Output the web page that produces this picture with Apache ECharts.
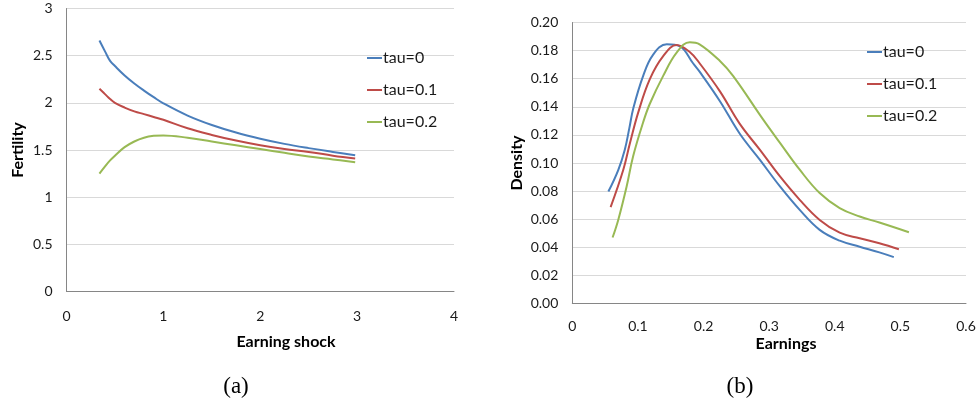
<!DOCTYPE html>
<html>
<head>
<meta charset="utf-8">
<script src="https://cdn.jsdelivr.net/npm/echarts@6/dist/echarts.min.js"></script>
<style>
html,body{margin:0;padding:0;background:#fff}
#chart{width:979px;height:404px}
</style>
</head>
<body>
<div id="chart"></div>
<script>
var seriesNames = ['tau=0', 'tau=0.1', 'tau=0.2'];
var colors = ['#4a7ebb', '#be4b48', '#98b954'];

// (a) fertility against earning shock
var shockX   = [0.34, 0.4, 0.45, 0.5, 0.6, 0.7, 0.8, 0.9, 1.0, 1.25, 1.5, 1.75, 2.0, 2.25, 2.5, 2.75, 2.98];
var fertTau0 = [2.66, 2.54, 2.445, 2.39, 2.29, 2.205, 2.13, 2.06, 1.995, 1.865, 1.765, 1.685, 1.62, 1.565, 1.52, 1.48, 1.445];
var fertTau1 = [2.15, 2.09, 2.04, 2.00, 1.95, 1.91, 1.88, 1.85, 1.82, 1.73, 1.66, 1.60, 1.55, 1.51, 1.48, 1.44, 1.41];
var fertTau2 = [1.25, 1.33, 1.39, 1.44, 1.53, 1.59, 1.63, 1.65, 1.655, 1.63, 1.59, 1.55, 1.51, 1.47, 1.43, 1.40, 1.37];

// (b) density against earnings
var earnX0 = [0.055, 0.070, 0.080, 0.087, 0.093, 0.108, 0.123, 0.144, 0.164, 0.184, 0.194, 0.225, 0.255, 0.2857, 0.3165, 0.3466, 0.377, 0.4075, 0.438, 0.468, 0.490];
var dens0  = [0.0797, 0.095, 0.1095, 0.125, 0.139, 0.162, 0.177, 0.1845, 0.183, 0.171, 0.165, 0.144, 0.121, 0.1024, 0.0833, 0.0666, 0.0524, 0.0447, 0.0404, 0.0364, 0.033];
var earnX1 = [0.0584, 0.0776, 0.0878, 0.1005, 0.118, 0.1385, 0.159, 0.179, 0.194, 0.225, 0.255, 0.2857, 0.3165, 0.3466, 0.377, 0.4075, 0.438, 0.468, 0.4977];
var dens1  = [0.0686, 0.095, 0.114, 0.136, 0.1595, 0.176, 0.184, 0.179, 0.171, 0.151, 0.128, 0.1095, 0.0904, 0.0738, 0.0595, 0.0504, 0.0464, 0.0429, 0.0386];
var earnX2 = [0.0614, 0.070, 0.0828, 0.0928, 0.108, 0.118, 0.1385, 0.159, 0.179, 0.194, 0.225, 0.245, 0.2907, 0.3165, 0.3466, 0.377, 0.4075, 0.438, 0.468, 0.513];
var dens2  = [0.047, 0.0595, 0.0833, 0.105, 0.129, 0.142, 0.162, 0.1786, 0.186, 0.1845, 0.1726, 0.162, 0.131, 0.1143, 0.0952, 0.0786, 0.0679, 0.0619, 0.0576, 0.0507];

function pairs(xs, ys) {
    return xs.map(function (x, i) { return [x, ys[i]]; });
}

var fontName = 'Lato';
var axisLineColor = '#868686';
var gridColor = '#d9d9d9';

function makeX(idx, max, interval, margin) {
    return {
        type: 'value', gridIndex: idx, min: 0, max: max, interval: interval,
        axisLine: {show: true, lineStyle: {color: axisLineColor, width: 1}},
        axisTick: {show: false},
        splitLine: {show: false},
        axisLabel: {color: '#1a1a1a', fontFamily: fontName, fontSize: 14, margin: margin}
    };
}
function makeY(idx, max, interval, fmt) {
    return {
        type: 'value', gridIndex: idx, min: 0, max: max, interval: interval,
        axisLine: {show: true, lineStyle: {color: axisLineColor, width: 1}},
        axisTick: {show: false},
        splitLine: {show: true, lineStyle: {color: gridColor, width: 1}},
        axisLabel: {color: '#1a1a1a', fontFamily: fontName, fontSize: 14, margin: 14, formatter: fmt}
    };
}
function makeLine(name, data, idx, color) {
    return {
        name: name, type: 'line', xAxisIndex: idx, yAxisIndex: idx,
        data: data, smooth: 0.4, showSymbol: false, symbol: 'none',
        lineStyle: {color: color, width: 2}, itemStyle: {color: color}
    };
}
function legendAt(left, top) {
    return {
        data: seriesNames, orient: 'vertical', left: left, top: top,
        icon: 'rect', itemWidth: 15, itemHeight: 2, itemGap: 16,
        textStyle: {fontFamily: fontName, fontSize: 16, color: '#1a1a1a', padding: [0, 0, 0, -4]},
        selectedMode: false
    };
}

var myChart = echarts.init(document.getElementById('chart'));
var option = {
    animation: false,
    backgroundColor: '#fff',
    grid: [
        {left: 66.5, right: 525, top: 8.5, bottom: 112.5},
        {left: 572.3, right: 13, top: 22.5, bottom: 100.5}
    ],
    xAxis: [makeX(0, 4, 1, 18), makeX(1, 0.6, 0.1, 16)],
    yAxis: [
        makeY(0, 3, 0.5),
        makeY(1, 0.2, 0.02, function (v) { return v.toFixed(2); })
    ],
    legend: [legendAt(362, 45), legendAt(862, 39)],
    series: [
        makeLine(seriesNames[0], pairs(shockX, fertTau0), 0, colors[0]),
        makeLine(seriesNames[1], pairs(shockX, fertTau1), 0, colors[1]),
        makeLine(seriesNames[2], pairs(shockX, fertTau2), 0, colors[2]),
        makeLine(seriesNames[0], pairs(earnX0, dens0), 1, colors[0]),
        makeLine(seriesNames[1], pairs(earnX1, dens1), 1, colors[1]),
        makeLine(seriesNames[2], pairs(earnX2, dens2), 1, colors[2])
    ],
    graphic: [
        {type: 'text', x: 286, y: 342, style: {text: 'Earning shock', font: 'bold 16px ' + fontName, fill: '#000', textAlign: 'center', textVerticalAlign: 'middle'}},
        {type: 'text', x: 18, y: 150, rotation: Math.PI / 2, style: {text: 'Fertility', font: 'bold 16px ' + fontName, fill: '#000', textAlign: 'center', textVerticalAlign: 'middle'}},
        {type: 'text', x: 786, y: 344, style: {text: 'Earnings', font: 'bold 16px ' + fontName, fill: '#000', textAlign: 'center', textVerticalAlign: 'middle'}},
        {type: 'text', x: 517, y: 163, rotation: Math.PI / 2, style: {text: 'Density', font: 'bold 16px ' + fontName, fill: '#000', textAlign: 'center', textVerticalAlign: 'middle'}},
        {type: 'text', x: 236, y: 387, style: {text: '(a)', font: '23px "Liberation Serif"', fill: '#000', textAlign: 'center', textVerticalAlign: 'middle'}},
        {type: 'text', x: 740, y: 387, style: {text: '(b)', font: '23px "Liberation Serif"', fill: '#000', textAlign: 'center', textVerticalAlign: 'middle'}}
    ]
};
myChart.setOption(option);
</script>
</body>
</html>
